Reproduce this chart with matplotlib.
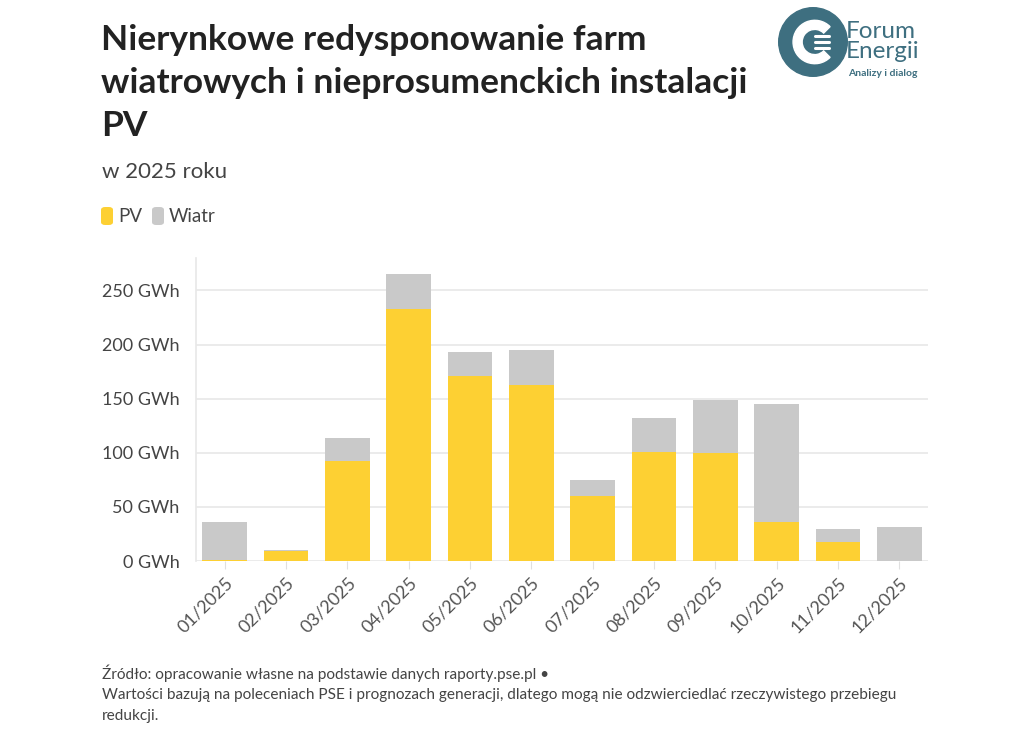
import numpy as np
import matplotlib
matplotlib.use("Agg")
import matplotlib.pyplot as plt
from matplotlib.patches import Circle, Wedge, FancyBboxPatch

W, H = 1024, 745
DPI = 100

months = ["01/2025", "02/2025", "03/2025", "04/2025", "05/2025", "06/2025",
          "07/2025", "08/2025", "09/2025", "10/2025", "11/2025", "12/2025"]
pv = [1, 9, 92, 233, 171, 163, 60, 101, 100, 36, 18, 0]
wiatr = [35, 1, 22, 32, 22, 32, 15, 31, 49, 109, 12, 31]
y_ticks = [0, 50, 100, 150, 200, 250]

YELLOW = "#FDD033"
GRAY = "#C9C9C9"
TEAL = "#3E6F80"
FONT = "Lato"

plt.rcParams['font.family'] = [FONT, 'DejaVu Sans']

fig = plt.figure(figsize=(W / DPI, H / DPI), dpi=DPI)


def fx(px):
    return px / W


def fy(py):
    return 1 - py / H


# title block
title_lines = ["Nierynkowe redysponowanie farm",
               "wiatrowych i nieprosumenckich instalacji",
               "PV"]
for i, line in enumerate(title_lines):
    fig.text(fx(101), fy(40 + 43 * i), line, fontsize=25.5,
             fontweight="bold", color="#222222", va="center")
fig.text(fx(102), fy(172), "w 2025 roku", fontsize=16, color="#444444", va="center")

# legend
for x0, col, lab in [(101, YELLOW, "PV"), (152, GRAY, "Wiatr")]:
    fig.patches.append(FancyBboxPatch((fx(x0), fy(225)), fx(12), 18 / H,
                                      boxstyle="round,pad=0,rounding_size=0.004",
                                      transform=fig.transFigure, facecolor=col,
                                      edgecolor="none"))
    fig.text(fx(x0 + 17), fy(216), lab, fontsize=13.5, color="#444444", va="center")

# main chart
ax = fig.add_axes([fx(196), fy(561), fx(928 - 196), (561 - 258) / H])
x = np.arange(len(months))
ax.bar(x, pv, width=0.73, color=YELLOW, zorder=3)
ax.bar(x, wiatr, width=0.73, bottom=pv, color=GRAY, zorder=3)

ax.set_xlim(-0.47, len(months) - 0.53)
ax.set_ylim(0, 280)
ax.set_yticks(y_ticks)
ax.set_yticklabels(["%d GWh" % v for v in y_ticks], fontsize=13, color="#444444")
ax.yaxis.grid(True, color="#E8E8E8", linewidth=1.2, zorder=0)
ax.tick_params(axis="y", length=0, pad=12)
ax.set_xticks(x)
ax.set_xticklabels(months, rotation=45, ha="right", rotation_mode="anchor",
                   fontsize=13, color="#555555")
ax.tick_params(axis="x", length=6, color="#E0E0E0", pad=4)

for s in ["top", "right", "bottom"]:
    ax.spines[s].set_visible(False)
ax.spines["left"].set_color("#E8E8E8")
ax.spines["left"].set_linewidth(1.2)

# footer
fig.text(fx(102), fy(673), "Źródło: opracowanie własne na podstawie danych raporty.pse.pl •",
         fontsize=11.1, color="#444444", va="center")
fig.text(fx(102), fy(695), "Wartości bazują na poleceniach PSE i prognozach generacji, "
         "dlatego mogą nie odzwierciedlać rzeczywistego przebiegu",
         fontsize=11.1, color="#444444", va="center")
fig.text(fx(102), fy(716), "redukcji.", fontsize=11.1, color="#444444", va="center")

# logo
lax = fig.add_axes([fx(778), fy(77), fx(70), 70 / H])
lax.set_xlim(-1, 1)
lax.set_ylim(-1, 1)
lax.set_aspect("equal")
lax.axis("off")
lax.add_patch(Circle((0, 0), 0.98, color=TEAL))
lax.add_patch(Wedge((0.05, 0), 0.62, 45, 315, width=0.26, color="white"))
for yy in [0.17, 0, -0.17]:
    lax.plot([0.05, 0.45], [yy, yy], color="white", linewidth=2.2,
             solid_capstyle="round")
fig.text(fx(846), fy(32), "Forum", fontsize=17.5, color=TEAL, va="center")
fig.text(fx(846), fy(52), "Energii", fontsize=17.5, color=TEAL, va="center")
fig.text(fx(848), fy(74), "Analizy i dialog", fontsize=7.5, fontweight="bold",
         color=TEAL, va="center")

fig.savefig("out.png", dpi=DPI, facecolor="white")
